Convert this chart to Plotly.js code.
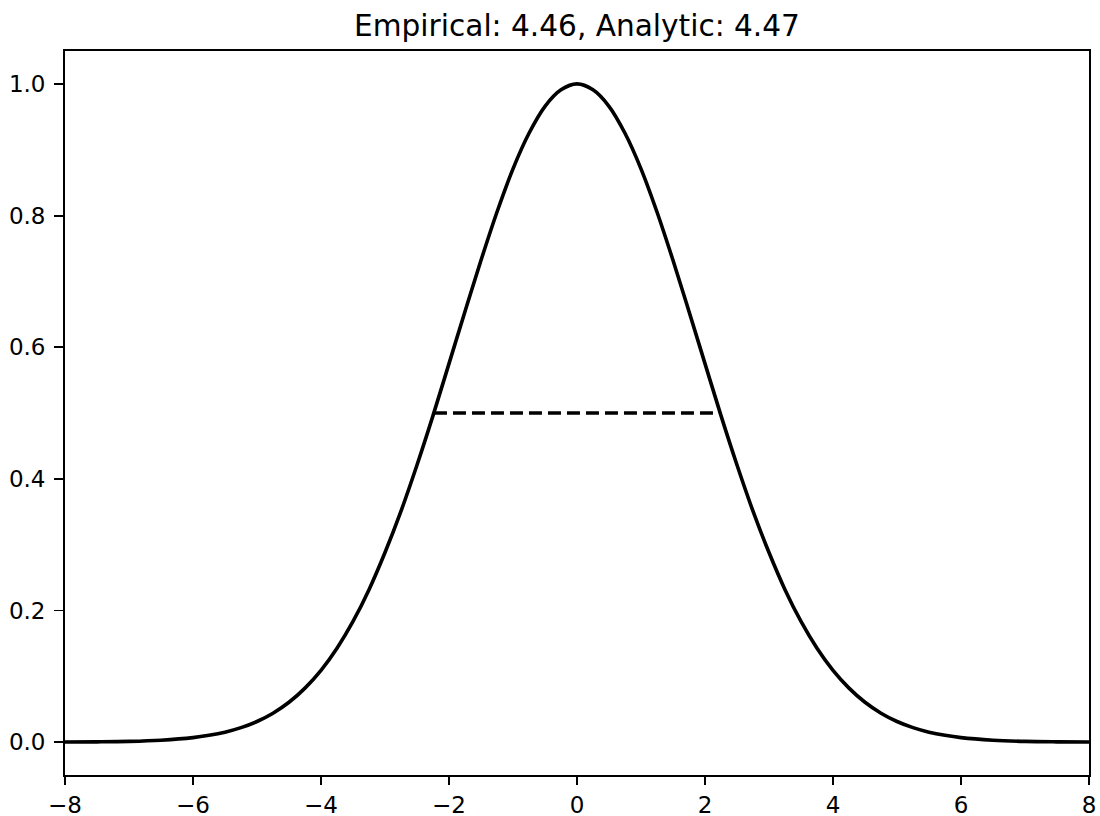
<!DOCTYPE html>
<html>
<head>
<meta charset="utf-8">
<script src="https://cdn.plot.ly/plotly-3.0.1.min.js"></script>
<style>html,body{margin:0;padding:0;background:#fff;}#chart{width:1100px;height:816px;}</style>
</head>
<body>
<div id="chart"></div>
<script>
// Curve values
const curveX = [-8,-7.5,-7,-6.5,-6,-5.75,-5.5,-5.25,-5,-4.75,-4.5,-4.25,-4,-3.75,-3.5,-3.25,-3,-2.75,-2.5,-2.25,-2,-1.75,-1.5,-1.25,-1,-0.75,-0.5,-0.25,0,0.25,0.5,0.75,1,1.25,1.5,1.75,2,2.25,2.5,2.75,3,3.25,3.5,3.75,4,4.25,4.5,4.75,5,5.25,5.5,5.75,6,6.5,7,7.5,8];
const curveY = [0.0001,0.0004,0.0011,0.0029,0.0068,0.0103,0.0151,0.0220,0.0313,0.0439,0.0605,0.0820,0.109,0.1426,0.1833,0.2316,0.288,0.3509,0.421,0.496,0.575,0.6543,0.732,0.8054,0.871,0.925,0.966,0.991,1.0,0.991,0.966,0.925,0.871,0.8054,0.732,0.6543,0.575,0.496,0.421,0.3509,0.288,0.2316,0.1833,0.1426,0.109,0.0820,0.0605,0.0439,0.0313,0.0220,0.0151,0.0103,0.0068,0.0029,0.0011,0.0004,0.0001];
// Half-maximum segment
const halfX = [-2.235, 2.235];
const halfY = [0.5, 0.5];
const titleText = 'Empirical: 4.46, Analytic: 4.47';
const xTicks = [-8,-6,-4,-2,0,2,4,6,8];
const yTicks = [0,0.2,0.4,0.6,0.8,1.0];

const font = {family: 'DejaVu Sans', color: '#000', size: 23};
const traces = [
  {x: curveX, y: curveY, mode: 'lines', line: {color: '#000', width: 3.6, shape: 'spline', smoothing: 1}, hoverinfo: 'skip'},
  {x: halfX, y: halfY, mode: 'lines', line: {color: '#000', width: 3.6, dash: '13px,6px'}, hoverinfo: 'skip'}
];
const axisCommon = {
  showgrid: false, zeroline: false, showline: true, mirror: true,
  linecolor: '#000', linewidth: 1.9, ticks: 'outside', tickwidth: 1.9,
  tickcolor: '#000', tickfont: font, tickmode: 'array'
};
const layout = {
  width: 1100, height: 816,
  margin: {l: 65, r: 11, t: 51, b: 41, pad: 0},
  paper_bgcolor: '#fff', plot_bgcolor: '#fff',
  showlegend: false,
  font: font,
  title: {text: titleText, font: {family: 'DejaVu Sans', size: 29.6, color: '#000'}, x: 0.5, xref: 'paper', xanchor: 'center', y: 1 - 26/816, yref: 'container', yanchor: 'middle'},
  xaxis: Object.assign({}, axisCommon, {range: [-8, 8], ticklen: 8, tickvals: xTicks, ticktext: xTicks.map(v => v < 0 ? '\u2212' + Math.abs(v) : String(v))}),
  yaxis: Object.assign({}, axisCommon, {range: [-0.05, 1.05], ticklen: 9, tickvals: yTicks, ticklabelstandoff: 4, ticktext: yTicks.map(v => v.toFixed(1))})
};
Plotly.newPlot('chart', traces, layout, {displayModeBar: false, staticPlot: true});
</script>
</body>
</html>
